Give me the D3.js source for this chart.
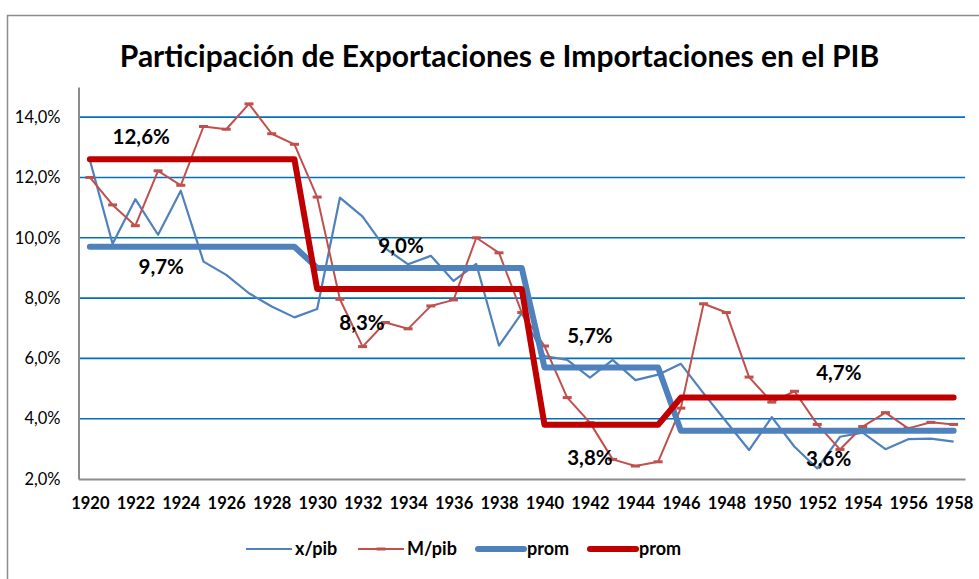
<!DOCTYPE html>
<html><head><meta charset="utf-8">
<script src="https://cdn.jsdelivr.net/npm/d3@7"></script>
<style>
html,body{margin:0;padding:0;background:#fff;}
text{font-family:Lato, "Open Sans", sans-serif;}
</style></head>
<body>
<svg id="chart" width="979" height="579"></svg>
<script>
const years = d3.range(1920, 1959);
const xpib = [12.58,9.80,11.28,10.10,11.56,9.21,8.77,8.16,7.72,7.36,7.64,11.33,10.70,9.65,9.12,9.40,8.57,9.13,6.42,7.50,6.08,5.95,5.36,5.95,5.28,5.46,5.82,4.84,3.90,2.96,4.05,3.07,2.35,3.40,3.54,2.99,3.32,3.34,3.24];
const mpib = [12.00,11.09,10.40,12.22,11.74,13.69,13.60,14.44,13.45,13.10,11.35,7.96,6.39,7.19,6.98,7.74,7.94,10.00,9.50,7.52,6.41,4.70,3.87,2.65,2.43,2.57,4.35,7.81,7.52,5.38,4.55,4.91,3.81,2.98,3.74,4.20,3.68,3.88,3.81];
// period averages (prom)
const promX = [].concat(Array(10).fill(9.7), Array(10).fill(9.0), Array(6).fill(5.7), Array(13).fill(3.6));
const promM = [].concat(Array(10).fill(12.6), Array(10).fill(8.3), Array(6).fill(3.8), Array(13).fill(4.7));
const yTicks = [2,4,6,8,10,12,14];
const xLabels = years.filter(y => y % 2 === 0);
const avgLabels = [
  {text:"12,6%", year:1922.26, value:13.28},
  {text:"9,7%",  year:1923.14, value:8.97},
  {text:"9,0%",  year:1933.69, value:9.66},
  {text:"8,3%",  year:1931.97, value:7.11},
  {text:"5,7%",  year:1942.0, value:6.68},
  {text:"3,8%",  year:1942.0, value:2.65},
  {text:"4,7%",  year:1952.95, value:5.45},
  {text:"3,6%",  year:1952.5, value:2.61}
];
const legendItems = [
  {name:"x/pib", key:"x"},
  {name:"M/pib", key:"m"},
  {name:"prom", key:"px"},
  {name:"prom", key:"pm"}
];
const title = "Participación de Exportaciones e Importaciones en el PIB";

const svg = d3.select("#chart");
const plot = {left:78.5, right:965, top:87, bottom:479};

const colX = "#4F81BD", colM = "#C0504D", colPM = "#C00000", grid = "#0070C0", axisC = "#8C8C8C";

// outer frame
svg.append("rect").attr("x",7.5).attr("y",15.5).attr("width",1000).attr("height",1000)
  .attr("fill","none").attr("stroke","#8C8C8C").attr("stroke-width",1.5);

const x = d3.scalePoint().domain(years).range([plot.left, plot.right]).padding(0.5);
const y = d3.scaleLinear().domain([2,15]).range([plot.bottom, plot.top]);
const loc = d3.formatLocale({decimal:",", thousands:".", grouping:[3], currency:["",""]});
const fmt = v => loc.format(".1f")(v) + "%";

svg.append("text").attr("x",499.5).attr("y",67).attr("text-anchor","middle")
  .attr("font-weight","bold").attr("font-size",30).attr("fill","#000").text(title);

// gridlines
svg.append("g").selectAll("line").data(yTicks.filter(t=>t>2)).join("line")
  .attr("x1",plot.left).attr("x2",plot.right)
  .attr("y1",d=>y(d)).attr("y2",d=>y(d))
  .attr("stroke",grid).attr("stroke-width",1.6);

// y axis
const yAxis = svg.append("g").attr("transform",`translate(${plot.left},0)`)
  .call(d3.axisLeft(y).tickValues(yTicks).tickFormat(fmt).tickSize(0).tickPadding(18));
yAxis.select(".domain").attr("stroke",axisC).attr("stroke-width",2);
yAxis.selectAll("text").attr("font-size",16.5).attr("fill","#000").attr("font-family","Lato, sans-serif");

// x axis
const xAxis = svg.append("g").attr("transform",`translate(0,${plot.bottom})`)
  .call(d3.axisBottom(x).tickValues(xLabels).tickSize(0).tickPadding(18));
xAxis.select(".domain").attr("stroke",axisC).attr("stroke-width",2);
xAxis.selectAll("text").attr("font-size",16.5).attr("font-weight","bold").attr("fill","#000").attr("font-family","Lato, sans-serif");

const line = d3.line().x((d,i)=>x(years[i])).y(d=>y(d));

svg.append("path").datum(xpib).attr("d",line).attr("fill","none").attr("stroke",colX).attr("stroke-width",2.2).attr("stroke-linejoin","round");
svg.append("path").datum(mpib).attr("d",line).attr("fill","none").attr("stroke",colM).attr("stroke-width",2).attr("stroke-linejoin","round");
svg.append("g").selectAll("rect").data(mpib).join("rect")
  .attr("x",(d,i)=>x(years[i])-4.5).attr("y",d=>y(d)-1.5).attr("width",9).attr("height",3)
  .attr("fill",colM);
svg.append("path").datum(promX).attr("d",line).attr("fill","none").attr("stroke",colX).attr("stroke-width",6).attr("stroke-linecap","round").attr("stroke-linejoin","round");
svg.append("path").datum(promM).attr("d",line).attr("fill","none").attr("stroke",colPM).attr("stroke-width",6).attr("stroke-linecap","round").attr("stroke-linejoin","round");

const xc = d3.scaleLinear().domain([1920,1958]).range([x(1920), x(1958)]);
svg.append("g").selectAll("text").data(avgLabels).join("text")
  .attr("x",d=>xc(d.year)).attr("y",d=>y(d.value)).attr("text-anchor","middle")
  .attr("dominant-baseline","middle")
  .attr("font-size",20.5).attr("font-weight","bold").attr("fill","#000").text(d=>d.text);

// legend
const legX = [246, 358, 478, 590];
const lg = svg.append("g").selectAll("g").data(legendItems).join("g")
  .attr("transform",(d,i)=>`translate(${legX[i]},549)`);
lg.append("line").attr("x1",0).attr("x2",46).attr("y1",0).attr("y2",0)
  .attr("stroke",d=>d.key==="x"||d.key==="px"?colX:(d.key==="m"?colM:colPM))
  .attr("stroke-width",d=>d.key==="px"||d.key==="pm"?6:2.2)
  .attr("stroke-linecap",d=>d.key==="px"||d.key==="pm"?"round":"butt");
lg.filter(d=>d.key==="m").append("rect").attr("x",18.5).attr("y",-1.5).attr("width",9).attr("height",3).attr("fill",colM);
lg.append("text").attr("x",49).attr("y",1).attr("dominant-baseline","middle")
  .attr("font-size",18).attr("font-weight","bold").attr("fill","#000").text(d=>d.name);
</script>
</body></html>
